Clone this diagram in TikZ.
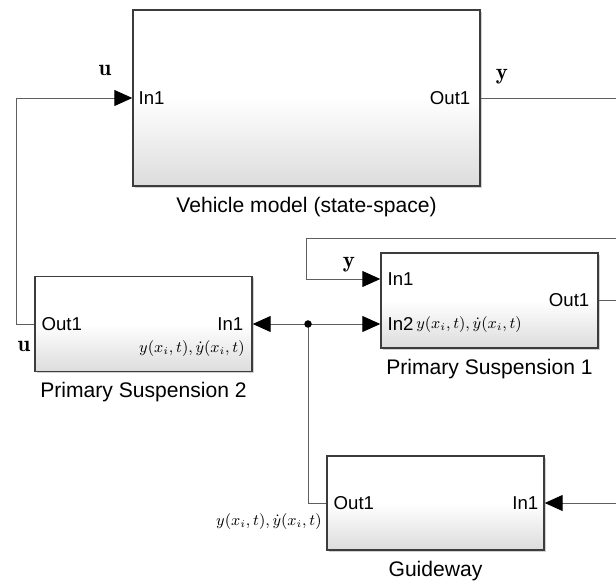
\documentclass[tikz,border=0pt]{standalone}
\usepackage{amsmath}
\usepackage{fontspec}
\usepackage{tikz}
\usetikzlibrary{positioning, calc, arrows.meta, shadows}
\newfontfamily\blockfont{Liberation Sans}
\tikzset{
    block/.style={
        draw=blockedge, line width=0.8pt, minimum width=4.34cm, minimum height=1.9cm,
        top color=white, bottom color=blockshade, middle color=white,
        drop shadow={shadow xshift=0.04cm, shadow yshift=-0.04cm, opacity=0.3, fill=black!60}
    },
    sig/.style={
        draw=wire, line width=0.55pt
    },
    sigarrow/.style={
        -{Triangle[length=0.36cm, width=0.32cm, color=black]}
    },
    portlbl/.style={
        font=\blockfont\fontsize{10.6}{12}\selectfont, inner sep=0pt
    },
    capt/.style={
        font=\blockfont\fontsize{12}{14}\selectfont, inner sep=0pt
    },
    siglbl/.style={
        font=\fontsize{13}{14}\selectfont, inner sep=0pt
    },
    mathlbl/.style={
        font=\fontsize{8.6}{10}\selectfont, inner sep=0pt
    }
}

\begin{document}
\begin{tikzpicture}
    % --- colours ---
    \definecolor{wire}{RGB}{95,95,95}
    \definecolor{blockedge}{RGB}{60,60,60}
    \definecolor{blockshade}{RGB}{220,220,220}

    \useasboundingbox (0,0) rectangle (12.32,-11.64);

    % --- blocks ---
    \node[block, minimum width=6.94cm, minimum height=3.52cm] (veh) at (6.13,-1.96) {};
    \node[block] (ps2) at (2.87,-6.48) {};
    \node[block] (ps1) at (9.79,-6.01) {};
    \node[block, minimum height=1.88cm] (gw) at (8.71,-10.06) {};

    % --- captions ---
    \node[capt, below=0.2cm of veh] (vehcap) {Vehicle model (state-space)};
    \node[capt, below=0.2cm of ps2] (ps2cap) {Primary Suspension 2};
    \node[capt, below=0.2cm of ps1] (ps1cap) {Primary Suspension 1};
    \node[capt, below=0.2cm of gw] (gwcap) {Guideway};

    % --- ports ---
    \coordinate (ps1in1) at ($(ps1.west)+(0,0.43)$);
    \coordinate (ps1in2) at ($(ps1.west)+(0,-0.47)$);
    \node[portlbl, right=0.12cm of veh.west] (vehinlbl) {In1};
    \node[portlbl, left=0.2cm of veh.east] (vehoutlbl) {Out1};
    \node[portlbl, right=0.14cm of ps2.west] (ps2outlbl) {Out1};
    \node[portlbl, left=0.18cm of ps2.east] (ps2inlbl) {In1};
    \node[portlbl, right=0.14cm of ps1in1] (ps1in1lbl) {In1};
    \node[portlbl, right=0.14cm of ps1in2] (ps1in2lbl) {In2};
    \node[portlbl, left=0.18cm of ps1.east] (ps1outlbl) {Out1};
    \node[portlbl, right=0.14cm of gw.west] (gwoutlbl) {Out1};
    \node[portlbl, left=0.12cm of gw.east] (gwinlbl) {In1};

    % --- free ends at the right border ---
    \coordinate (lftx) at (0.32,0);
    \coordinate (vehoutR) at (12.32,-1.96);
    \coordinate (fbR) at (12.32,-4.76);
    \coordinate (fbL) at (6.12,-4.76);
    \coordinate (ps1outR) at (12.32,-6.01);
    \coordinate (gwinR) at (12.32,-10.06);
    \coordinate (jn) at (6.16,-6.48);

    % --- connectors ---
    \draw[sig, sigarrow] (ps2.west) -- (ps2.west -| lftx) |- (veh.west);
    \draw[sig] (veh.east) -- (vehoutR);
    \draw[sig, sigarrow] (fbR) -- (fbL) |- (ps1in1);
    \draw[sig] (ps1.east) -- (ps1outR);
    \draw[sig] (gw.west) -| (jn);
    \draw[sig, sigarrow] (jn) -- (ps2.east);
    \draw[sig, sigarrow] (jn) -- (ps1in2);
    \draw[sig, sigarrow] (gwinR) -- (gw.east);
    \fill[black] (jn) circle (0.075);

    % --- signal labels ---
    \node[siglbl] (uveh) at (2.1,-1.4) {$\mathbf{u}$};
    \node[siglbl] (yveh) at (10.04,-1.54) {$\mathbf{y}$};
    \node[siglbl] (ups2) at (0.48,-6.92) {$\mathbf{u}$};
    \node[siglbl] (yps1) at (6.98,-5.30) {$\mathbf{y}$};
    \node[mathlbl, anchor=east] (ps2math) at (4.9,-6.98) {$y(x_i,t),\dot{y}(x_i,t)$};
    \node[mathlbl, anchor=west] (ps1math) at (8.32,-6.5) {$y(x_i,t),\dot{y}(x_i,t)$};
    \node[mathlbl, anchor=east] (gwmath) at (6.44,-10.44) {$y(x_i,t),\dot{y}(x_i,t)$};
\end{tikzpicture}
\end{document}
